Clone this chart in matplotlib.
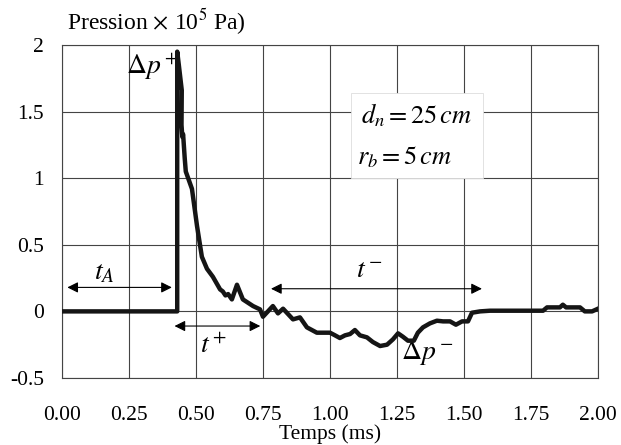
import numpy as np
import matplotlib
matplotlib.use("Agg")
import matplotlib.pyplot as plt
from matplotlib.patches import Rectangle

plt.rcParams['font.family'] = ['Liberation Serif', 'DejaVu Serif']
plt.rcParams['mathtext.fontset'] = 'stix'

# pressure trace (time in ms, pressure in 1e5 Pa)
temps = [0.00, 0.430, 0.430, 0.436, 0.447, 0.446, 0.449, 0.452, 0.458, 0.462,
         0.485, 0.504, 0.522, 0.541, 0.563, 0.590, 0.600, 0.610, 0.620, 0.634,
         0.653, 0.675, 0.713, 0.739, 0.750, 0.787, 0.806, 0.825, 0.862, 0.888,
         0.914, 0.951, 1.000, 1.019, 1.037, 1.056, 1.075, 1.093, 1.112, 1.138,
         1.160, 1.187, 1.213, 1.235, 1.254, 1.272, 1.291, 1.313, 1.328, 1.347,
         1.373, 1.399, 1.422, 1.448, 1.470, 1.493, 1.515, 1.530, 1.560, 1.597,
         1.795, 1.810, 1.858, 1.869, 1.881, 1.933, 1.951, 1.978, 2.000]
pression = [0.00, 0.00, 1.95, 1.85, 1.66, 1.40, 1.31, 1.33, 1.15, 1.05,
            0.92, 0.64, 0.41, 0.32, 0.26, 0.165, 0.15, 0.12, 0.13, 0.09,
            0.20, 0.09, 0.04, 0.015, -0.04, 0.04, -0.015, 0.02, -0.06, -0.045,
            -0.12, -0.16, -0.16, -0.18, -0.20, -0.18, -0.17, -0.14, -0.18, -0.195,
            -0.23, -0.26, -0.25, -0.21, -0.165, -0.19, -0.22, -0.22, -0.16, -0.12,
            -0.09, -0.07, -0.075, -0.075, -0.10, -0.075, -0.075, -0.01, 0.00, 0.005,
            0.005, 0.03, 0.03, 0.05, 0.03, 0.03, 0.00, 0.00, 0.02]

xticks = [0.00, 0.25, 0.50, 0.75, 1.00, 1.25, 1.50, 1.75, 2.00]
xlabels = ['0.00', '0.25', '0.50', '0.75', '1.00', '1.25', '1.50', '1.75', '2.00']
yticks = [-0.5, 0, 0.5, 1, 1.5, 2]
ylabels = ['-0.5', '0', '0.5', '1', '1.5', '2']

fig = plt.figure(figsize=(6.21, 4.45), dpi=100)
ax = fig.add_axes([0.0998, 0.1506, 0.8631, 0.7483])

ax.plot(temps, pression, color='#151515', lw=3.2, solid_joinstyle='round', zorder=4)

ax.set_xlim(0, 2)
ax.set_ylim(-0.5, 2)
ax.set_xticks(xticks)
ax.set_xticklabels(xlabels)
ax.set_yticks(yticks)
ax.set_yticklabels(ylabels)
ax.tick_params(length=0, labelsize=15.5)
ax.tick_params(axis='x', pad=20)
ax.tick_params(axis='y', pad=13)
ax.grid(True, color='#444444', lw=0.8)
for s in ax.spines.values():
    s.set_color('#444444')
    s.set_linewidth(0.8)
ax.set_xlabel('Temps (ms)', fontsize=15.5, labelpad=0)

fig.text(0.108, 0.951, r'Pression $\times$ 10$^5$ Pa)', fontsize=17, ha='left', va='center')

arrow = dict(arrowstyle='<|-|>', color='black', lw=0.8, mutation_scale=16, shrinkA=0, shrinkB=0)
ax.annotate('', xy=(0.02, 0.18), xytext=(0.41, 0.18), arrowprops=arrow)
ax.annotate('', xy=(0.42, -0.11), xytext=(0.74, -0.11), arrowprops=arrow)
ax.annotate('', xy=(0.78, 0.17), xytext=(1.567, 0.17), arrowprops=arrow)

ax.text(0.16, 0.29, r'$t_A$', fontsize=20, ha='center', va='center')
ax.text(0.567, -0.26, r'$t^+$', fontsize=20, ha='center', va='center')
ax.text(1.146, 0.30, r'$t^-$', fontsize=20, ha='center', va='center')
ax.text(0.336, 1.84, r'$\Delta p^+$', fontsize=20, ha='center', va='center')
ax.text(1.362, -0.31, r'$\Delta p^-$', fontsize=20, ha='center', va='center')

# white label box hiding the grid
ax.add_patch(Rectangle((1.08, 1.0), 0.49, 0.64, facecolor='white', edgecolor='#dddddd',
                       lw=0.6, zorder=2.5))
ax.text(1.53, 1.41, r'$d_n = 25\,cm$', fontsize=19, ha='right', va='baseline', zorder=3)
ax.text(1.455, 1.10, r'$r_b = 5\,cm$', fontsize=19, ha='right', va='baseline', zorder=3)

fig.savefig('out.png', dpi=100)
